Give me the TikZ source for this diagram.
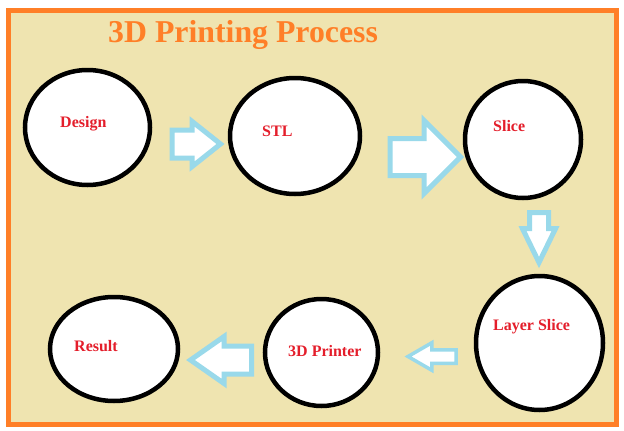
\documentclass[tikz,border=0pt]{standalone}
\usepackage{fontspec}
\setmainfont{Liberation Serif}
\usetikzlibrary{shapes.geometric,shapes.arrows}
\definecolor{cream}{HTML}{EFE4B0}
\definecolor{frameorange}{HTML}{FF7F27}
\definecolor{flowblue}{HTML}{99D9EA}
\definecolor{labelred}{HTML}{E41E2B}

\begin{document}
\begin{tikzpicture}[x=1pt,y=-1pt,
    stage/.style={ellipse,draw=black,fill=white,line width=4.5pt,inner sep=0pt},
    flow/.style={single arrow,draw=flowblue,fill=white,line width=5pt,anchor=tail},
    lbl/.style={text=labelred,font=\bfseries\fontsize{16}{16}\selectfont,anchor=base west,inner sep=0pt}]
        \useasboundingbox (0,0) rectangle (624,431);
        \draw[draw=frameorange,fill=cream,line width=5pt] (8.5,10) rectangle (616,424.5);
        \node[text=frameorange,font=\bfseries\fontsize{31.8}{32}\selectfont,anchor=base west,inner sep=0pt] (title) at (108,42) {3D Printing Process};
        \node[stage,minimum width=125pt,minimum height=115pt] (design) at (87.5,127.5) {};
        \node[stage,minimum width=130pt,minimum height=116pt] (stl) at (295,136) {};
        \node[stage,minimum width=116pt,minimum height=117pt] (slice) at (523,139.5) {};
        \node[stage,minimum width=127pt,minimum height=134pt] (layer) at (539.5,343) {};
        \node[stage,minimum width=113pt,minimum height=107pt] (printer) at (321.5,352.5) {};
        \node[stage,minimum width=128pt,minimum height=104pt] (result) at (114,349) {};
        \node[lbl] (design-t) at (60,127) {Design};
        \node[lbl] (stl-t) at (262,136.5) {STL};
        \node[lbl] (slice-t) at (493,131.5) {Slice};
        \node[lbl] (layer-t) at (493,330.5) {Layer Slice};
        \node[lbl] (printer-t) at (288,356) {3D Printer};
        \node[lbl] (result-t) at (74,351) {Result};
        \node[flow,minimum height=48.5pt,inner sep=11.5pt,single arrow head extend=8.5pt,single arrow tip angle=77] (a1) at (169.5,144) {};
        \node[flow,minimum height=70.5pt,inner sep=16pt,single arrow head extend=18pt,single arrow tip angle=90] (a2) at (387.5,157) {};
        \node[flow,minimum height=50pt,inner sep=7pt,single arrow head extend=7pt,single arrow tip angle=52,shape border rotate=270] (a3) at (539,210) {};
        \node[flow,minimum height=61pt,inner sep=11.5pt,single arrow head extend=9.5pt,single arrow tip angle=70,shape border rotate=180] (a4) at (254,360) {};
        \node[flow,line width=3.5pt,minimum height=48pt,inner sep=5pt,single arrow head extend=7pt,single arrow tip angle=60,shape border rotate=180] (a5) at (457.75,356.5) {};
\end{tikzpicture}
\end{document}
